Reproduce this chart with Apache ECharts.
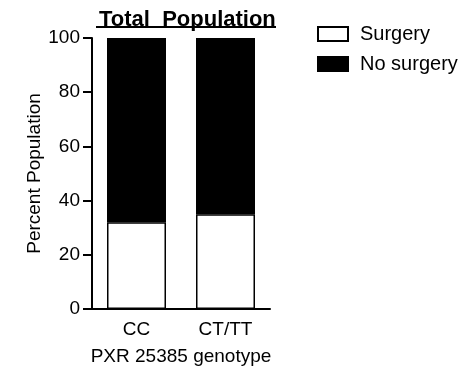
<!DOCTYPE html>
<html>
<head>
<meta charset="utf-8">
<script src="https://cdn.jsdelivr.net/npm/echarts@6/dist/echarts.min.js"></script>
<style>
  html, body { margin: 0; padding: 0; background: #fff; }
  #chart { width: 475px; height: 371px; }
</style>
</head>
<body>
<div id="chart"></div>
<script>
// 数据
const genotypes = ["CC", "CT/TT"]
const surgery = [32, 35]
const noSurgery = [68, 65]
const yTicks = [0, 20, 40, 60, 80, 100]

const font = "'Liberation Sans', Arial, sans-serif"

let chart = echarts.init(document.getElementById("chart"))
let option = {
    animation: false,
    textStyle: { fontFamily: font, color: "#000" },
    title: {
        text: "Total  Population",
        left: 94,
        top: 4,
        textStyle: { fontFamily: font, fontSize: 22, fontWeight: "bold", color: "#000" }
    },
    // 标题下划线
    graphic: [{
        type: "line",
        shape: { x1: 96, y1: 27, x2: 276, y2: 27 },
        style: { stroke: "#000", lineWidth: 2 }
    }],
    legend: {
        orient: "vertical",
        left: 312,
        top: 19,
        itemWidth: 30,
        itemHeight: 14,
        itemGap: 10,
        icon: "rect",
        textStyle: { fontFamily: font, fontSize: 20, color: "#000", padding: [0, 0, 0, 7] },
        data: ["Surgery", "No surgery"]
    },
    grid: { left: 92, top: 38, right: 205, bottom: 61 },
    xAxis: {
        type: "category",
        data: genotypes,
        name: "PXR 25385 genotype",
        nameLocation: "middle",
        nameGap: 38,
        nameTextStyle: { fontFamily: font, fontSize: 19, color: "#000" },
        axisLine: { lineStyle: { color: "#000", width: 2 } },
        axisTick: { alignWithLabel: true, length: 8, lineStyle: { color: "#000", width: 2 } },
        axisLabel: { fontFamily: font, fontSize: 19, color: "#000", margin: 11 }
    },
    yAxis: {
        type: "value",
        min: yTicks[0],
        max: yTicks[yTicks.length - 1],
        interval: 20,
        name: "Percent Population",
        nameLocation: "middle",
        nameGap: 38,
        nameTextStyle: { fontFamily: font, fontSize: 19, color: "#000" },
        splitLine: { show: false },
        axisLine: { show: true, lineStyle: { color: "#000", width: 2 } },
        axisTick: { show: true, length: 9, lineStyle: { color: "#000", width: 2 } },
        axisLabel: { fontFamily: font, fontSize: 19, color: "#000", margin: 12 }
    },
    series: [
        {
            name: "Surgery",
            type: "bar",
            stack: "total",
            barWidth: 59,
            data: surgery,
            itemStyle: { color: "#fff", borderColor: "#000", borderWidth: 1.5 }
        },
        {
            name: "No surgery",
            type: "bar",
            stack: "total",
            barWidth: 59,
            data: noSurgery,
            itemStyle: { color: "#000", borderColor: "#000", borderWidth: 1.5 }
        }
    ]
}
chart.setOption(option)
</script>
</body>
</html>
